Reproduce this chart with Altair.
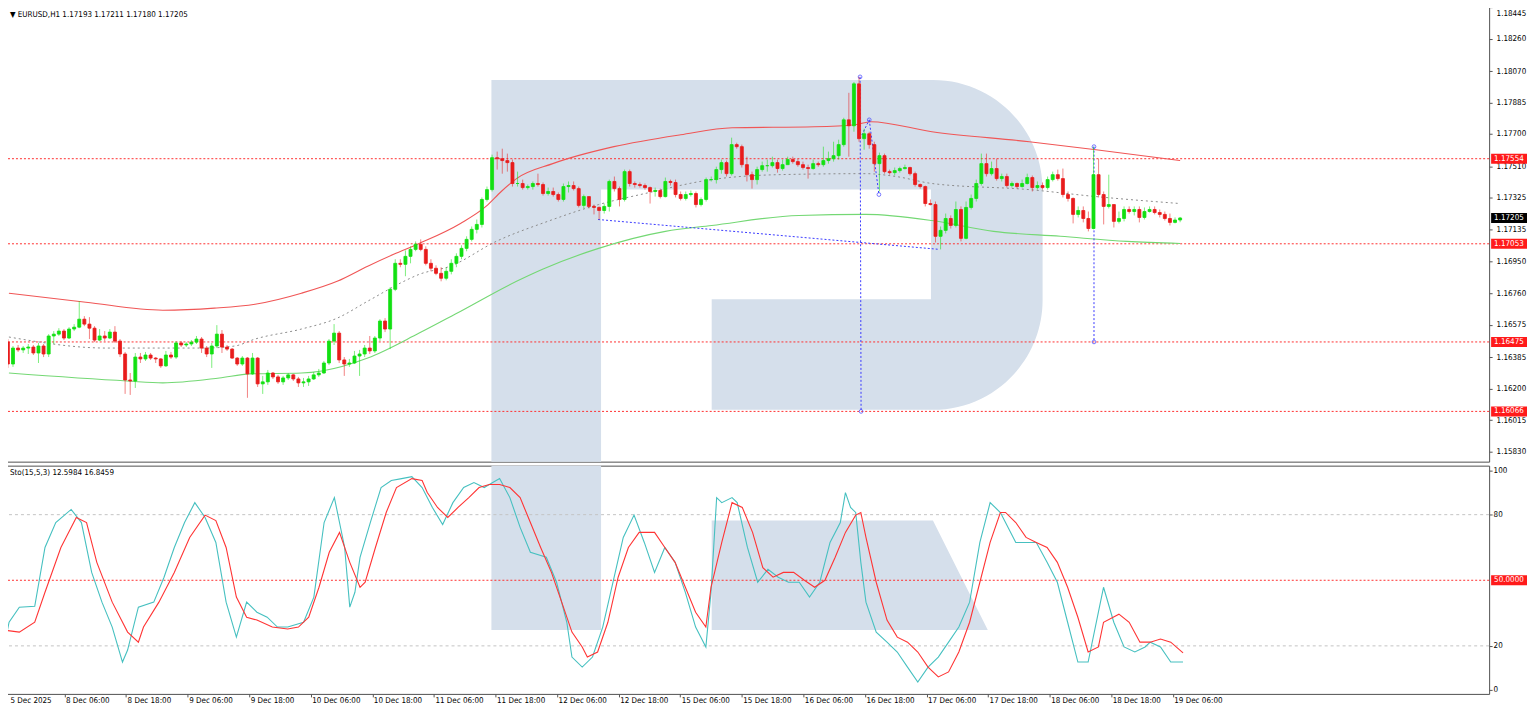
import altair as alt
import pandas as pd

# ---------------- data ----------------
first_open = 1.16474
close = [
1.16345, 1.16439, 1.16428, 1.16439, 1.16445, 1.16410, 1.16451, 1.16404, 1.16510, 1.16521,
1.16539, 1.16498, 1.16551, 1.16562, 1.16609, 1.16580, 1.16556, 1.16486, 1.16510, 1.16498,
1.16533, 1.16480, 1.16404, 1.16251, 1.16245, 1.16386, 1.16375, 1.16398, 1.16380, 1.16375,
1.16334, 1.16398, 1.16386, 1.16469, 1.16457, 1.16463, 1.16474, 1.16492, 1.16439, 1.16404,
1.16451, 1.16521, 1.16445, 1.16433, 1.16380, 1.16345, 1.16380, 1.16287, 1.16380, 1.16228,
1.16240, 1.16292, 1.16269, 1.16240, 1.16263, 1.16281, 1.16257, 1.16234, 1.16240, 1.16257, 1.16281,
1.16292, 1.16351, 1.16480, 1.16527, 1.16369, 1.16345, 1.16351, 1.16392, 1.16404, 1.16439,
1.16422, 1.16498, 1.16598, 1.16551, 1.16785, 1.16938, 1.16932, 1.16979, 1.17020, 1.17050,
1.17020, 1.16938, 1.16909, 1.16879, 1.16850, 1.16891, 1.16938, 1.16979, 1.17026, 1.17079,
1.17138, 1.17167, 1.17314, 1.17372, 1.17560, 1.17554, 1.17543, 1.17531, 1.17408, 1.17408,
1.17384, 1.17390, 1.17408, 1.17402, 1.17349, 1.17361, 1.17343, 1.17314, 1.17390, 1.17396,
1.17378, 1.17279, 1.17331, 1.17273, 1.17267, 1.17249, 1.17273, 1.17420, 1.17378, 1.17314,
1.17478, 1.17408, 1.17402, 1.17396, 1.17384, 1.17361, 1.17367, 1.17331, 1.17420, 1.17414,
1.17343, 1.17320, 1.17343, 1.17349, 1.17284, 1.17314, 1.17431, 1.17431, 1.17490, 1.17531,
1.17466, 1.17637, 1.17625, 1.17519, 1.17460, 1.17431, 1.17490, 1.17513, 1.17513, 1.17531,
1.17496, 1.17519, 1.17549, 1.17537, 1.17519, 1.17502, 1.17496, 1.17525, 1.17519, 1.17543,
1.17554, 1.17572, 1.17637, 1.17783, 1.17748, 1.17995, 1.17672, 1.17701, 1.17637, 1.17525,
1.17572, 1.17478, 1.17472, 1.17484, 1.17496, 1.17502, 1.17466, 1.17402, 1.17390, 1.17290,
1.17284, 1.17097, 1.17132, 1.17202, 1.17161, 1.17255, 1.17085, 1.17267, 1.17320, 1.17408,
1.17525, 1.17466, 1.17496, 1.17437, 1.17449, 1.17396, 1.17408, 1.17390, 1.17408, 1.17443, 1.17384,
1.17396, 1.17384, 1.17431, 1.17460, 1.17437, 1.17343, 1.17320, 1.17226, 1.17249, 1.17202,
1.17143, 1.17460, 1.17343, 1.17273, 1.17284, 1.17185, 1.17202, 1.17255, 1.17243, 1.17255,
1.17208, 1.17243, 1.17255, 1.17237, 1.17226, 1.17202, 1.17179, 1.17193, 1.17205]
high = [
1.16492, 1.16451, 1.16457, 1.16451, 1.16463, 1.16457, 1.16469, 1.16463, 1.16521, 1.16539,
1.16556, 1.16551, 1.16562, 1.16580, 1.16715, 1.16627, 1.16621, 1.16568, 1.16551, 1.16539,
1.16551, 1.16568, 1.16492, 1.16416, 1.16292, 1.16410, 1.16410, 1.16416, 1.16410, 1.16386,
1.16380, 1.16422, 1.16416, 1.16480, 1.16480, 1.16474, 1.16486, 1.16510, 1.16504, 1.16451,
1.16469, 1.16574, 1.16545, 1.16457, 1.16439, 1.16386, 1.16392, 1.16386, 1.16410, 1.16386,
1.16275, 1.16310, 1.16298, 1.16281, 1.16275, 1.16292, 1.16287, 1.16269, 1.16263, 1.16275, 1.16298,
1.16316, 1.16363, 1.16492, 1.16580, 1.16539, 1.16386, 1.16375, 1.16422, 1.16428, 1.16457,
1.16510, 1.16510, 1.16609, 1.16615, 1.16797, 1.16962, 1.16962, 1.17014, 1.17038, 1.17067,
1.17079, 1.17038, 1.16962, 1.16926, 1.16915, 1.16915, 1.16962, 1.16997, 1.17044, 1.17097,
1.17155, 1.17196, 1.17326, 1.17390, 1.17578, 1.17596, 1.17613, 1.17584, 1.17549, 1.17478,
1.17431, 1.17402, 1.17420, 1.17466, 1.17414, 1.17384, 1.17384, 1.17355, 1.17408, 1.17420,
1.17420, 1.17390, 1.17343, 1.17331, 1.17284, 1.17273, 1.17290, 1.17431, 1.17449, 1.17390,
1.17490, 1.17490, 1.17420, 1.17414, 1.17408, 1.17390, 1.17384, 1.17378, 1.17443, 1.17431,
1.17431, 1.17361, 1.17361, 1.17367, 1.17361, 1.17326, 1.17443, 1.17449, 1.17507, 1.17549,
1.17543, 1.17678, 1.17648, 1.17637, 1.17566, 1.17478, 1.17507, 1.17537, 1.17549, 1.17566,
1.17549, 1.17549, 1.17566, 1.17566, 1.17554, 1.17537, 1.17519, 1.17549, 1.17537, 1.17625,
1.17596, 1.17654, 1.17666, 1.17795, 1.17942, 1.18006, 1.18036, 1.17731, 1.17713, 1.17654,
1.17590, 1.17584, 1.17490, 1.17502, 1.17507, 1.17519, 1.17507, 1.17478, 1.17408, 1.17396,
1.17314, 1.17302, 1.17155, 1.17231, 1.17220, 1.17302, 1.17273, 1.17302, 1.17343, 1.17431,
1.17584, 1.17584, 1.17537, 1.17554, 1.17466, 1.17466, 1.17420, 1.17414, 1.17431, 1.17466, 1.17455,
1.17420, 1.17414, 1.17449, 1.17478, 1.17490, 1.17496, 1.17361, 1.17326, 1.17273, 1.17273,
1.17243, 1.17625, 1.17554, 1.17361, 1.17460, 1.17284, 1.17243, 1.17273, 1.17273, 1.17273,
1.17273, 1.17267, 1.17273, 1.17273, 1.17255, 1.17243, 1.17231, 1.17208, 1.17211]
low = [
1.16322, 1.16328, 1.16416, 1.16410, 1.16404, 1.16398, 1.16351, 1.16386, 1.16386, 1.16463,
1.16510, 1.16486, 1.16492, 1.16539, 1.16556, 1.16568, 1.16492, 1.16474, 1.16480, 1.16480,
1.16492, 1.16469, 1.16386, 1.16169, 1.16163, 1.16204, 1.16351, 1.16363, 1.16369, 1.16351,
1.16322, 1.16328, 1.16375, 1.16375, 1.16445, 1.16445, 1.16451, 1.16463, 1.16410, 1.16386,
1.16322, 1.16439, 1.16410, 1.16422, 1.16375, 1.16334, 1.16334, 1.16146, 1.16281, 1.16210,
1.16169, 1.16222, 1.16257, 1.16228, 1.16222, 1.16251, 1.16245, 1.16210, 1.16210, 1.16216, 1.16251,
1.16269, 1.16287, 1.16339, 1.16457, 1.16351, 1.16275, 1.16328, 1.16345, 1.16275, 1.16386,
1.16404, 1.16410, 1.16480, 1.16533, 1.16433, 1.16774, 1.16915, 1.16862, 1.16938, 1.17009,
1.17009, 1.16926, 1.16891, 1.16868, 1.16832, 1.16838, 1.16873, 1.16915, 1.16962, 1.17009,
1.17067, 1.17114, 1.17149, 1.17302, 1.17361, 1.17490, 1.17466, 1.17478, 1.17390, 1.17390,
1.17372, 1.17372, 1.17372, 1.17390, 1.17337, 1.17337, 1.17331, 1.17302, 1.17302, 1.17355,
1.17367, 1.17267, 1.17261, 1.17261, 1.17226, 1.17196, 1.17231, 1.17243, 1.17361, 1.17273,
1.17302, 1.17390, 1.17384, 1.17384, 1.17372, 1.17290, 1.17331, 1.17320, 1.17326, 1.17396,
1.17326, 1.17308, 1.17308, 1.17331, 1.17267, 1.17273, 1.17302, 1.17420, 1.17408, 1.17466,
1.17449, 1.17455, 1.17613, 1.17502, 1.17420, 1.17378, 1.17402, 1.17478, 1.17478, 1.17502,
1.17472, 1.17484, 1.17519, 1.17525, 1.17507, 1.17490, 1.17437, 1.17490, 1.17507, 1.17507,
1.17525, 1.17537, 1.17549, 1.17625, 1.17566, 1.17713, 1.17654, 1.17607, 1.17613, 1.17478,
1.17361, 1.17466, 1.17460, 1.17455, 1.17472, 1.17490, 1.17455, 1.17390, 1.17378, 1.17273,
1.17279, 1.17061, 1.17020, 1.17114, 1.17143, 1.17149, 1.17067, 1.17079, 1.17255, 1.17302,
1.17396, 1.17449, 1.17455, 1.17425, 1.17420, 1.17384, 1.17384, 1.17378, 1.17384, 1.17402, 1.17361,
1.17372, 1.17372, 1.17372, 1.17420, 1.17425, 1.17326, 1.17302, 1.17173, 1.17208, 1.17179,
1.17126, 1.17138, 1.17326, 1.17167, 1.17261, 1.17149, 1.17173, 1.17185, 1.17231, 1.17220,
1.17179, 1.17196, 1.17237, 1.17226, 1.17208, 1.17190, 1.17161, 1.17173, 1.17180]

# moving-average style curves (bar index, price)
red_i = [0.2, 15.3, 30.4, 40.5, 48.5, 57.6, 64.6, 70.6, 75.7, 80.7, 88.8, 93.8, 96.8, 99.8, 106.9, 118.9, 132.0,
         142.1, 158.2, 166.2, 169.3, 181.3, 200.4, 213.5, 230]
red_p = [1.16762, 1.16709, 1.16662, 1.16674, 1.16697, 1.16762, 1.16832, 1.16921, 1.16991, 1.17055, 1.17173, 1.17273,
         1.17361, 1.17437, 1.17525, 1.17625, 1.17695, 1.17736, 1.17742, 1.17754, 1.17772, 1.17713, 1.17654, 1.17607, 1.17543]
gray_i = [0.2, 19.3, 38.4, 44.5, 48.5, 57.6, 64.6, 70.6, 77.7, 80.7, 86.8, 95.8, 105.9, 115.9, 125.0, 138.1, 151.1,
          168.3, 174.3, 181.3, 200.4, 213.5, 230]
gray_p = [1.16504, 1.16439, 1.16439, 1.16451, 1.16492, 1.16551, 1.16615, 1.16715, 1.16832, 1.16873, 1.16921, 1.17067,
          1.17185, 1.17284, 1.17349, 1.17431, 1.17460, 1.17466, 1.17449, 1.17408, 1.17372, 1.17331, 1.17290]
green_i = [0.2, 23.4, 30.4, 41.5, 47.5, 57.6, 61.6, 70.6, 80.7, 87.8, 99.8, 104.9, 115.9, 129.0, 138.1, 155.2, 168.3,
           181.3, 193.4, 206.5, 219.6, 230]
green_p = [1.16292, 1.16245, 1.16234, 1.16263, 1.16287, 1.16292, 1.16304, 1.16380, 1.16527, 1.16639, 1.16832, 1.16903,
           1.17026, 1.17126, 1.17161, 1.17220, 1.17226, 1.17190, 1.17126, 1.17097, 1.17067, 1.17055]

# stochastic %K and %D (bar index, value)
k_i = [0.2, 1.2, 3.2, 6.2, 8.2, 10.3, 13.3, 15.3, 17.3, 19.3, 21.3, 23.3, 24.3, 26.4, 29.4, 31.4, 33.4, 35.4, 37.4,
       39.4, 41.5, 43.5, 45.5, 47.5, 49.5, 51.5, 53.5, 55.5, 58.6, 60.6, 62.6, 64.6, 66.6, 67.6, 68.6, 69.6, 71.6, 73.7,
       75.7, 77.7, 79.7, 81.7, 83.7, 85.7, 87.7, 89.8, 91.8, 93.8, 94.8, 96.8, 98.8, 100.8, 102.8, 105.9, 107.9, 109.9,
       110.9, 112.9, 114.9, 116.9, 118.9, 120.9, 123.0, 125.0, 127.0, 129.0, 131.0, 133.0, 135.0, 137.0, 138.0, 139.1,
       140.1, 142.1, 143.1, 145.1, 147.1, 149.1, 151.1, 153.1, 155.2, 157.2, 159.2, 161.2, 163.2, 164.2, 165.2, 166.2,
       167.2, 168.2, 170.2, 172.3, 174.3, 176.3, 178.3, 180.3, 182.3, 184.3, 186.3, 188.4, 190.4, 192.4, 194.4, 195.4,
       197.4, 199.4, 201.4, 203.5, 205.5, 207.5, 209.5, 211.5, 213.5, 214.5, 216.5, 218.5, 220.6, 222.6, 223.6, 225.6,
       227.6, 230]
k_v = [19.5, 30.8, 37.7, 38.1, 65.0, 76.4, 82.4, 76.4, 53.6, 40.0, 28.6, 12.6, 18.1, 37.7, 40.0, 51.4, 65.0, 76.4, 85.5,
       78.7, 67.3, 40.0, 24.0, 40.0, 35.4, 33.1, 28.6, 28.6, 30.8, 42.3, 76.4, 87.8, 65.0, 37.7, 44.5, 60.5, 76.4, 92.4,
       95.6, 96.5, 97.4, 92.4, 83.3, 75.5, 85.5, 92.4, 94.7, 92.4, 93.8, 96.5, 87.8, 74.2, 62.8, 60.5, 49.1, 30.8, 14.9,
       10.3, 14.9, 28.6, 49.1, 69.6, 79.8, 67.3, 53.6, 65.0, 58.2, 44.5, 28.6, 19.5, 44.5, 87.8, 85.5, 87.8, 85.5, 65.0,
       49.1, 55.0, 51.4, 49.1, 49.1, 42.3, 49.1, 67.3, 76.4, 90.1, 83.3, 81.0, 58.2, 40.0, 26.3, 21.7, 17.2, 10.3, 3.5,
       10.3, 14.9, 21.7, 28.6, 40.0, 67.3, 85.5, 81.0, 76.4, 67.3, 67.3, 67.3, 58.2, 49.1, 30.8, 12.6, 12.6, 35.4, 46.8,
       30.8, 19.5, 17.2, 19.5, 21.7, 19.5, 12.6, 12.6]
d_i = [0.2, 3.2, 6.2, 8.2, 11.3, 14.3, 16.3, 18.3, 21.3, 24.3, 26.4, 27.4, 30.4, 33.4, 36.4, 39.4, 41.5, 43.5, 45.5,
       47.5, 49.5, 52.5, 55.5, 57.6, 59.6, 61.6, 63.6, 65.6, 67.6, 69.6, 70.6, 72.6, 74.7, 76.7, 79.7, 81.7, 82.7, 84.7,
       86.7, 88.7, 90.8, 92.8, 94.8, 96.8, 98.8, 100.8, 102.8, 104.8, 106.9, 108.9, 110.9, 112.9, 113.9, 115.9, 117.9,
       119.9, 121.9, 124.0, 127.0, 129.0, 131.0, 133.0, 135.0, 137.0, 138.0, 140.1, 142.1, 144.1, 146.1, 148.1, 150.1,
       152.1, 154.1, 156.2, 158.2, 160.2, 162.2, 164.2, 166.2, 167.2, 168.2, 170.2, 172.3, 174.3, 176.3, 178.3, 180.3,
       182.3, 184.3, 186.3, 188.4, 190.4, 192.4, 194.4, 195.4, 197.4, 199.4, 201.4, 203.5, 205.5, 207.5, 209.5, 211.5,
       213.5, 214.5, 217.5, 219.5, 221.6, 223.6, 225.6, 227.6, 230]
d_v = [27.2, 26.3, 30.8, 44.5, 65.0, 78.7, 76.4, 58.2, 40.0, 26.3, 21.7, 28.6, 40.0, 53.6, 69.6, 79.8, 77.3, 65.0, 42.3,
       33.1, 31.8, 28.6, 27.7, 28.6, 33.1, 46.8, 62.8, 71.9, 58.2, 46.8, 49.1, 65.0, 81.0, 92.4, 96.5, 95.6, 90.1, 83.3,
       78.7, 83.3, 87.8, 92.4, 93.8, 93.8, 92.4, 87.8, 76.4, 65.0, 53.6, 40.0, 26.3, 19.5, 14.9, 17.2, 30.8, 51.4, 65.0,
       71.9, 71.9, 65.0, 58.2, 46.8, 35.4, 28.6, 46.8, 67.3, 85.5, 83.3, 71.9, 55.8, 51.4, 53.6, 53.6, 50.0, 46.8, 50.0,
       60.5, 71.9, 79.8, 81.0, 69.6, 49.1, 31.8, 24.0, 21.7, 17.2, 10.3, 5.8, 8.1, 17.2, 30.8, 49.1, 67.3, 81.0, 81.0,
       76.4, 69.6, 67.3, 65.0, 58.2, 46.8, 33.1, 17.2, 19.5, 30.8, 34.5, 30.8, 21.7, 21.7, 23.1, 21.7, 16.8]

# blue dotted analysis lines drawn on the chart (bar index / price)
seg_x0 = [115.8, 167.2, 167.2, 169.0, 213.1]
seg_p0 = [1.17196, 1.18036, 1.17672, 1.17783, 1.17625]
seg_x1 = [182.8, 167.4, 169.0, 170.9, 213.1]
seg_p1 = [1.17020, 1.16066, 1.17783, 1.17343, 1.16475]
node_x = [167.2, 169.0, 170.9, 213.1, 167.4, 213.1]
node_p = [1.18036, 1.17783, 1.17343, 1.17625, 1.16066, 1.16475]

price_ticks = [1.18445, 1.18260, 1.18070, 1.17885, 1.17700, 1.17510, 1.17325, 1.17135, 1.16950,
               1.16760, 1.16575, 1.16385, 1.16200, 1.16015, 1.15830]
level_prices = [1.17554, 1.17053, 1.16475, 1.16066]
current_price = 1.17205
time_labels = ["5 Dec 2025", "8 Dec 06:00", "8 Dec 18:00", "9 Dec 06:00", "9 Dec 18:00",
               "10 Dec 06:00", "10 Dec 18:00", "11 Dec 06:00", "11 Dec 18:00", "12 Dec 06:00", "12 Dec 18:00",
               "15 Dec 06:00", "15 Dec 18:00", "16 Dec 06:00", "16 Dec 18:00", "17 Dec 06:00", "17 Dec 18:00",
               "18 Dec 06:00", "18 Dec 18:00", "19 Dec 06:00"]
sto_ticks = [0, 20, 80, 100]
title_main = "\u25bc EURUSD,H1  1.17193 1.17211 1.17180 1.17205"
title_sto = "Sto(15,5,3) 12.5984 16.8459"

# ---------------- styling ----------------
FONT = "'DejaVu Sans Condensed', 'Liberation Sans', sans-serif"
UP, DOWN = "#12e012", "#e81c1c"
WM = "#d5dfeb"
W, H1, H2 = 1492, 460, 229

n = min(len(close), len(high), len(low))
opens = [first_open] + close[:n - 1]
candles = pd.DataFrame({"i": list(range(n)), "open": opens, "close": close[:n],
                        "high": high[:n], "low": low[:n]})
candles["dir"] = ["up" if c >= o else "down" for o, c in zip(candles.open, candles.close)]

xs = alt.Scale(domain=[-0.175, 289.65], nice=False, zero=False)
ys = alt.Scale(domain=[1.15770, 1.18470], nice=False, zero=False)
ss = alt.Scale(domain=[-1.96, 102.42], nice=False, zero=False)
col = alt.Scale(domain=["up", "down"], range=[UP, DOWN])

price_axis = alt.Axis(orient="right", values=price_ticks, format=".5f", grid=False, domain=False,
                      tickSize=3, tickColor="#555", labelPadding=4, labelFont=FONT, labelFontSize=8,
                      labelColor="#000", labelOverlap=False, labelFlush=False, title=None,
                      labelOffset={"condition": {"test": "datum.value > 1.1844", "value": 6}, "value": 0})
sto_axis = alt.Axis(orient="right", values=sto_ticks, format="d", grid=False, domain=False,
                    tickSize=3, tickColor="#555", labelPadding=1, labelFont=FONT, labelFontSize=8,
                    labelColor="#000", labelOverlap=False, labelFlush=False, title=None)
label_js = "[" + ",".join("'%s'" % t for t in time_labels) + "][round(datum.value / 12)]"
time_axis = alt.Axis(values=[12 * k for k in range(len(time_labels))], labelExpr=label_js, grid=False,
                     domain=False, tickSize=3, tickColor="#555", labelAlign="left",
                     labelOffset={"condition": {"test": "datum.value < 1", "value": 7}, "value": 1},
                     labelPadding=0, labelFont=FONT, labelFontSize=8, labelColor="#000",
                     labelOverlap=False, labelFlush=False, title=None)

# background watermark outline (reference pixels), drawn as one symbol path
CX, CY, HALF = 768.5, 353.0, 280.0
logo_cmds = [
    ("M", 492, 78), ("L", 602, 78), ("L", 602, 628), ("L", 492, 628), ("Z",),
    ("M", 602, 78), ("L", 935, 78), ("C", 995.75, 78, 1045, 127.25, 1045, 188), ("L", 1045, 299),
    ("C", 1045, 359.75, 995.75, 409, 935, 409), ("L", 713, 409), ("L", 713, 298), ("L", 933, 298),
    ("L", 933, 188), ("L", 602, 188), ("Z",),
    ("M", 713, 518), ("L", 935, 518), ("L", 990, 628), ("L", 713, 628), ("Z",),
]
parts = []
for cmd in logo_cmds:
    op, pts = cmd[0], cmd[1:]
    coords = ["%.4f,%.4f" % ((pts[k] - CX) / HALF, (pts[k + 1] - CY) / HALF) for k in range(0, len(pts), 2)]
    parts.append(op + " ".join(coords))
LOGO = " ".join(parts)
one = pd.DataFrame({"k": [0]})


def logo(cy):
    return alt.Chart(one).mark_point(shape=LOGO, size=(2 * HALF) ** 2, filled=True, fill=WM,
                                     opacity=1, strokeWidth=0, clip=True).encode(
        x=alt.value(CX - 1), y=alt.value(cy))


X = alt.X("i:Q", scale=xs, axis=None)

levels_df = pd.DataFrame({"p": level_prices, "lab": ["%.5f" % v for v in level_prices]})
cur_df = pd.DataFrame({"p": [current_price], "lab": ["%.5f" % current_price]})
levels = alt.Chart(levels_df).mark_rule(color="#ff3030", strokeDash=[2, 2], strokeWidth=1).encode(
    y=alt.Y("p:Q", scale=ys, axis=price_axis))


def curve(ix, pv, color, dash=None, width=1.0):
    df = pd.DataFrame({"i": ix, "p": pv})
    kw = dict(color=color, strokeWidth=width, interpolate="monotone")
    if dash:
        kw["strokeDash"] = dash
    return alt.Chart(df).mark_line(**kw).encode(x=X, y=alt.Y("p:Q", scale=ys, axis=price_axis))


red_ma = curve(red_i, red_p, "#f05656", width=1.1)
green_ma = curve(green_i, green_p, "#74d874", width=1.1)
gray_ma = curve(gray_i, gray_p, "#8c8c8c", dash=[2, 3], width=1.0)

seg_df = pd.DataFrame({"x0": seg_x0, "p0": seg_p0, "x1": seg_x1, "p1": seg_p1})
segs = alt.Chart(seg_df).mark_rule(color="#3a3aff", strokeDash=[2, 2], strokeWidth=1).encode(
    x=alt.X("x0:Q", scale=xs, axis=None), x2="x1:Q",
    y=alt.Y("p0:Q", scale=ys, axis=price_axis), y2="p1:Q")
nodes = alt.Chart(pd.DataFrame({"i": node_x, "p": node_p})).mark_point(
    shape="circle", size=14, color="#3a3aff", filled=False, strokeWidth=1).encode(
    x=X, y=alt.Y("p:Q", scale=ys, axis=price_axis))

wicks = alt.Chart(candles).mark_rule(strokeWidth=1, opacity=0.55).encode(
    x=X, y=alt.Y("low:Q", scale=ys, axis=price_axis), y2="high:Q",
    color=alt.Color("dir:N", scale=col, legend=None))
bodies = alt.Chart(candles).mark_bar(size=3, strokeWidth=0.8).encode(
    x=X, y=alt.Y("open:Q", scale=ys, axis=price_axis), y2="close:Q",
    color=alt.Color("dir:N", scale=col, legend=None),
    stroke=alt.Stroke("dir:N", scale=col, legend=None))


def tag(df, fill, scale, axis, field):
    box = alt.Chart(df).mark_rect(height=10, color=fill, clip=False).encode(
        x=alt.value(W + 2), x2=alt.value(W + 38), y=alt.Y(field, scale=scale, axis=axis))
    txt = alt.Chart(df).mark_text(align="left", baseline="middle", color="white", font=FONT,
                                  fontSize=8, clip=False).encode(
        x=alt.value(W + 5), y=alt.Y(field, scale=scale, axis=axis), text="lab:N")
    return box, txt


lv_box, lv_txt = tag(levels_df, "#ff1a1a", ys, price_axis, "p:Q")
cu_box, cu_txt = tag(cur_df, "#000000", ys, price_axis, "p:Q")
title1 = alt.Chart(one).mark_text(align="left", baseline="middle", font=FONT, fontSize=8, color="#000").encode(
    x=alt.value(8), y=alt.value(12), text=alt.value(title_main))

main = alt.layer(logo(CY - 1), levels, red_ma, green_ma, gray_ma, segs, nodes, wicks, bodies,
                 lv_box, lv_txt, cu_box, cu_txt, title1).properties(width=W, height=H1)

# ---------------- stochastic panel ----------------
XS = alt.X("i:Q", scale=xs, axis=time_axis)
guide_df = pd.DataFrame({"v": [80, 20]})
guides = alt.Chart(guide_df).mark_rule(color="#c4c4c4", strokeDash=[3, 3], strokeWidth=1).encode(
    y=alt.Y("v:Q", scale=ss, axis=sto_axis))
mid_df = pd.DataFrame({"v": [50], "lab": ["50.0000"]})
mid = alt.Chart(mid_df).mark_rule(color="#ff3030", strokeDash=[2, 2], strokeWidth=1).encode(
    y=alt.Y("v:Q", scale=ss, axis=sto_axis))
mid_box, mid_txt = tag(mid_df, "#ff1a1a", ss, sto_axis, "v:Q")
k_line = alt.Chart(pd.DataFrame({"i": k_i, "v": k_v})).mark_line(color="#46c0c0", strokeWidth=1.1).encode(
    x=XS, y=alt.Y("v:Q", scale=ss, axis=sto_axis))
d_line = alt.Chart(pd.DataFrame({"i": d_i, "v": d_v})).mark_line(color="#ff3434", strokeWidth=1.1).encode(
    x=XS, y=alt.Y("v:Q", scale=ss, axis=sto_axis))
title2 = alt.Chart(one).mark_text(align="left", baseline="middle", font=FONT, fontSize=8, color="#000").encode(
    x=alt.value(8), y=alt.value(7), text=alt.value(title_sto))

sto = alt.layer(logo(CY - 463), guides, mid, k_line, d_line, mid_box, mid_txt, title2).properties(
    width=W, height=H2)

chart = alt.vconcat(main, sto, spacing=2).properties(
    padding={"left": -7, "top": -7, "right": 0, "bottom": 0},
    background="white",
).configure_view(stroke="#505050", strokeWidth=1)

chart.save("out.html", embed_options={"renderer": "svg", "actions": False})
